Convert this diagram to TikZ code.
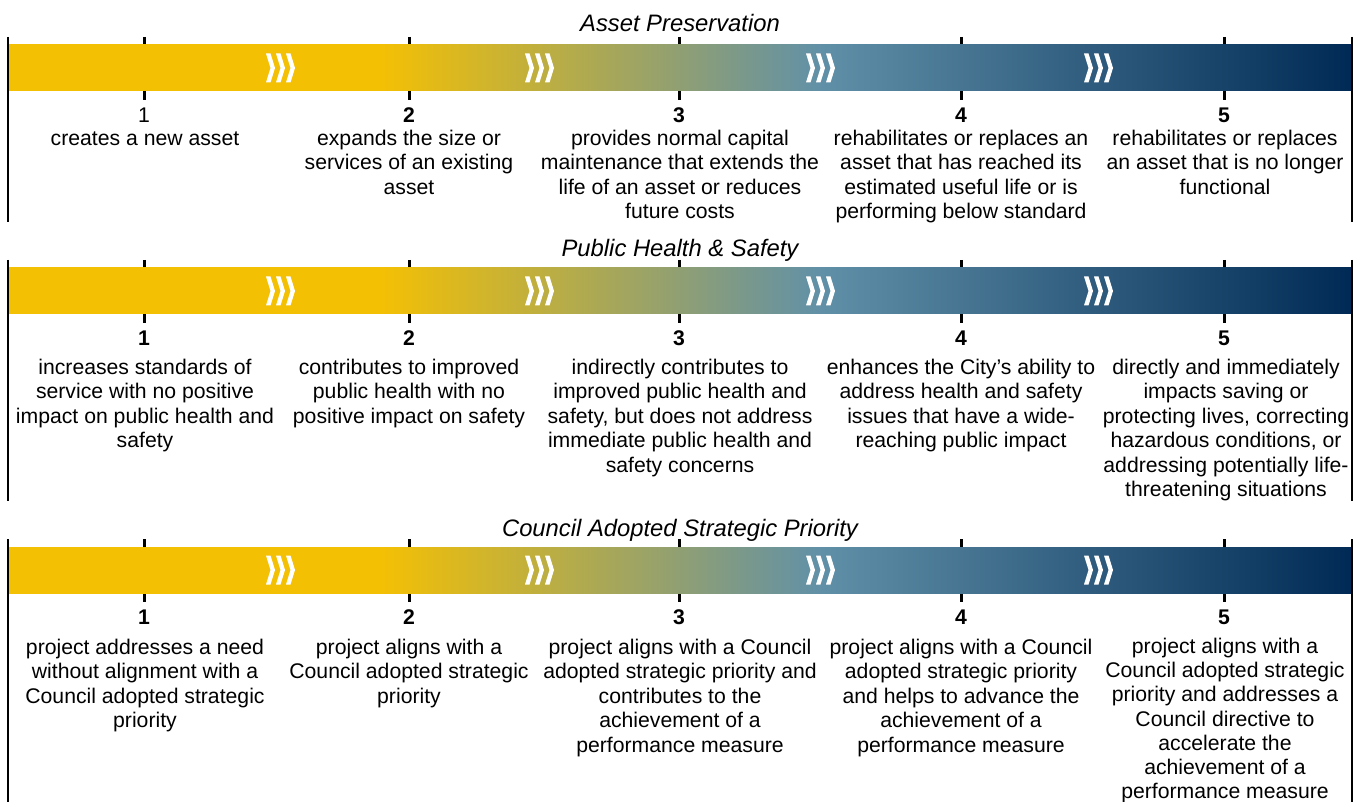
\documentclass[tikz,border=0pt]{standalone}
\usepackage{fontspec}
\setmainfont{Liberation Sans}

\definecolor{barGold}{HTML}{F4C004}
\definecolor{barSteel}{HTML}{6090A8}
\definecolor{barNavy}{HTML}{002A55}

% left-to-right fill of the rating bars: 25bp..75bp spans the bar
\pgfdeclarehorizontalshading{ratingbar}{100bp}{%
  color(0bp)=(barGold); color(38.84bp)=(barGold);
  color(55.28bp)=(barSteel); color(75bp)=(barNavy); color(100bp)=(barNavy)}

% stacked, centred lines whose baseline is that of the first line
\newcommand\cellstack[1]{\begin{tabular}[t]{@{}c@{}}#1\end{tabular}}

\tikzset{
  sideline/.style={line width=2pt, black},
  tickline/.style={line width=3pt, black},
  chevron/.style={fill=white},
  scaletitle/.style={font=\fontsize{23.8}{28}\selectfont\itshape, inner sep=0pt, anchor=base},
  scorelabel/.style={font=\fontsize{21.2}{24.5}\selectfont, inner sep=0pt, anchor=base},
  desc/.style={font=\fontsize{21.2}{24.5}\selectfont, inner sep=0pt, anchor=base},
  desctight/.style={desc, font=\fontsize{21.2}{24.2}\selectfont},
}

% one rating scale: #1 vertical offset, #2 lower end of the side rules
\newcommand\ratingframe[2]{%
  \foreach \tx in {144,409,679,961,1224}
    \draw[tickline] (\tx,#1+37) -- (\tx,#1+100);
  \shade[shading=ratingbar] (8,#1+45) rectangle (1352,#1+91);
  \foreach \cx in {266,525,806,1084}
    \foreach \k in {0,1,2}
      \fill[chevron] (\cx+10*\k,#1+53.5) -- ++(4.5,0) -- ++(4.5,14.5)
        -- ++(-4.5,14.5) -- ++(-4.5,0) -- ++(4.5,-14.5) -- cycle;
  \draw[sideline] (8,#1+37) -- (8,#2);
  \draw[sideline] (1352,#1+37) -- (1352,#2);
}

\begin{document}
\begin{tikzpicture}[x=1pt,y=-1pt]
\useasboundingbox (0,0) rectangle (1361,802);

% ---------------- Asset Preservation ----------------
\ratingframe{0}{222.5}
\node[scaletitle] (apT) at (680,31.7) {Asset Preservation};
\node[scorelabel] (apN1) at (144,122.3) {1};
\node[scorelabel] (apN2) at (409,122.3) {\textbf{2}};
\node[scorelabel] (apN3) at (679,122.3) {\textbf{3}};
\node[scorelabel] (apN4) at (961,122.3) {\textbf{4}};
\node[scorelabel] (apN5) at (1224,122.3) {\textbf{5}};
\node[desc] (apD1) at (145,145.3) {\cellstack{creates a new asset}};
\node[desc] (apD2) at (409,145.3) {\cellstack{expands the size or\\services of an existing\\asset}};
\node[desc] (apD3) at (680,145.3) {\cellstack{provides normal capital\\maintenance that extends the\\life of an asset or reduces\\future costs}};
\node[desc] (apD4) at (961,145.3) {\cellstack{rehabilitates or replaces an\\asset that has reached its\\estimated useful life or is\\performing below standard}};
\node[desc] (apD5) at (1225,145.3) {\cellstack{rehabilitates or replaces\\an asset that is no longer\\functional}};

% ---------------- Public Health & Safety ----------------
\ratingframe{223}{501}
\node[scaletitle] (phT) at (680,256.5) {Public Health \& Safety};
\node[scorelabel] (phN1) at (144,345.8) {\textbf{1}};
\node[scorelabel] (phN2) at (409,345.8) {\textbf{2}};
\node[scorelabel] (phN3) at (679,345.8) {\textbf{3}};
\node[scorelabel] (phN4) at (961,345.8) {\textbf{4}};
\node[scorelabel] (phN5) at (1224,345.8) {\textbf{5}};
\node[desc] (phD1) at (145,374.5) {\cellstack{increases standards of\\service with no positive\\impact on public health and\\safety}};
\node[desc] (phD2) at (409,374.5) {\cellstack{contributes to improved\\public health with no\\positive impact on safety}};
\node[desc] (phD3) at (680,374.5) {\cellstack{indirectly contributes to\\improved public health and\\safety, but does not address\\immediate public health and\\safety concerns}};
\node[desc] (phD4) at (961,374.5) {\cellstack{enhances the City’s ability to\\address health and safety\\issues that have a wide-\\reaching public impact}};
\node[desc] (phD5) at (1226,374.5) {\cellstack{directly and immediately\\impacts saving or\\protecting lives, correcting\\hazardous conditions, or\\addressing potentially life-\\threatening situations}};

% ---------------- Council Adopted Strategic Priority ----------------
\ratingframe{502}{802}
\node[scaletitle] (csT) at (680,536) {Council Adopted Strategic Priority};
\node[scorelabel] (csN1) at (144,624.8) {\textbf{1}};
\node[scorelabel] (csN2) at (409,624.8) {\textbf{2}};
\node[scorelabel] (csN3) at (679,624.8) {\textbf{3}};
\node[scorelabel] (csN4) at (961,624.8) {\textbf{4}};
\node[scorelabel] (csN5) at (1224,624.8) {\textbf{5}};
\node[desc] (csD1) at (145,654) {\cellstack{project addresses a need\\without alignment with a\\Council adopted strategic\\priority}};
\node[desc] (csD2) at (409,654) {\cellstack{project aligns with a\\Council adopted strategic\\priority}};
\node[desc] (csD3) at (680,654) {\cellstack{project aligns with a Council\\adopted strategic priority and\\contributes to the\\achievement of a\\performance measure}};
\node[desc] (csD4) at (961,654) {\cellstack{project aligns with a Council\\adopted strategic priority\\and helps to advance the\\achievement of a\\performance measure}};
\node[desctight] (csD5) at (1225,653.5) {\cellstack{project aligns with a\\Council adopted strategic\\priority and addresses a\\Council directive to\\accelerate the\\achievement of a\\performance measure}};
\end{tikzpicture}
\end{document}
